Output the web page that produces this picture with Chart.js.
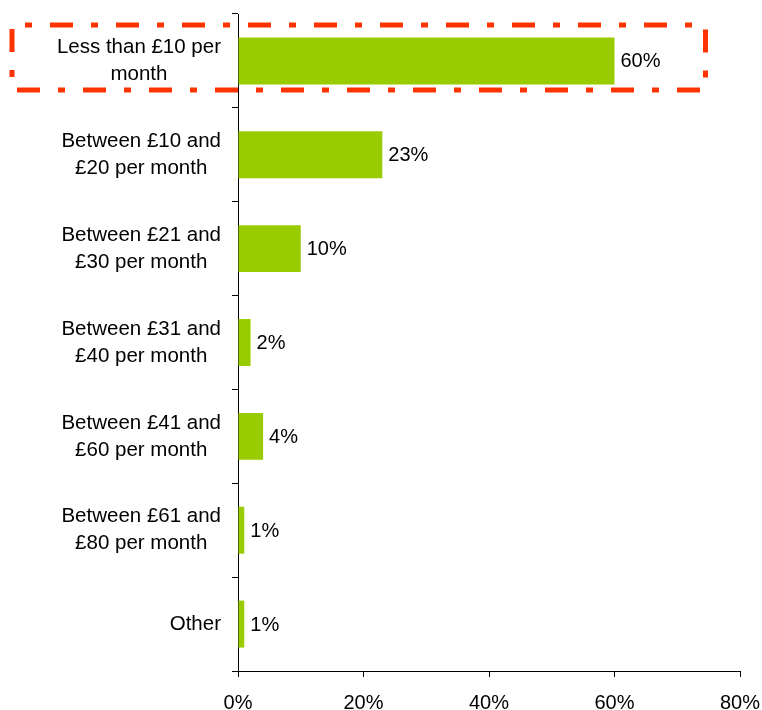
<!DOCTYPE html>
<html>
<head>
<meta charset="utf-8">
<script src="https://cdn.jsdelivr.net/npm/chart.js@4.4.0/dist/chart.umd.min.js"></script>
<style>
  body { margin: 0; background: #fff; }
  #wrap { width: 762px; height: 710px; }
</style>
</head>
<body>
<div id="wrap"><canvas id="myChart" width="762" height="710"></canvas></div>
<script>
// categories (each one is a list of label lines)
const categories = [
  ["Less than £10 per", "month"],
  ["Between £10 and", "£20 per month"],
  ["Between £21 and", "£30 per month"],
  ["Between £31 and", "£40 per month"],
  ["Between £41 and", "£60 per month"],
  ["Between £61 and", "£80 per month"],
  ["Other"]
];
// share of respondents, %
const shares = [60, 23, 10, 2, 4, 1, 1];
const xTicks = [0, 20, 40, 60, 80];

// highlighted category and how far right its box goes (in % on the x axis)
const highlightIndex = 0;
const highlightTo = 74.5;

const FONT = "'Liberation Sans', Arial, sans-serif";
Chart.defaults.font.family = FONT;
Chart.defaults.font.size = 20;
Chart.defaults.color = "#000";

// value labels at the end of each bar
const valueLabels = {
  id: "valueLabels",
  afterDatasetsDraw(chart) {
    const c = chart.ctx;
    const meta = chart.getDatasetMeta(0);
    c.save();
    c.font = "20px " + FONT;
    c.fillStyle = "#000";
    c.textAlign = "left";
    c.textBaseline = "middle";
    meta.data.forEach((bar, i) => {
      c.fillText(shares[i] + "%", bar.x + 6, bar.y + 1);
    });
    c.restore();
  }
};

// category labels: block right aligned, lines centred inside the block
const catLabels = {
  id: "catLabels",
  afterDraw(chart) {
    const c = chart.ctx;
    const y = chart.scales.y;
    const right = y.right - 17;
    const lh = 27;
    c.save();
    c.font = "20.5px " + FONT;
    c.fillStyle = "#000";
    c.textAlign = "center";
    c.textBaseline = "middle";
    categories.forEach((lines, i) => {
      const w = Math.max(...lines.map(l => c.measureText(l).width));
      const cx = right - w / 2;
      const cy = y.getPixelForValue(i);
      lines.forEach((l, k) => {
        c.fillText(l, cx, cy + (k - (lines.length - 1) / 2) * lh);
      });
    });
    c.restore();
  }
};

// dash-dot highlight box round one category
const highlightBox = {
  id: "highlightBox",
  afterDraw(chart) {
    const c = chart.ctx;
    const xs = chart.scales.x, ys = chart.scales.y;
    const yc = ys.getPixelForValue(highlightIndex);
    const x0 = 12, x1 = xs.getPixelForValue(highlightTo);
    const y0 = yc - 36, y1 = yc + 29;
    c.save();
    c.strokeStyle = "#ff3300";
    c.lineWidth = 5;
    c.setLineDash([23, 18, 7, 18]);
    c.lineDashOffset = 28;
    c.strokeRect(x0, y0, x1 - x0, y1 - y0);
    c.restore();
  }
};

new Chart(document.getElementById("myChart"), {
  type: "bar",
  data: {
    labels: categories,
    datasets: [{
      data: shares,
      backgroundColor: "#99cc00",
      borderWidth: 0,
      barPercentage: 0.5,
      categoryPercentage: 1
    }]
  },
  options: {
    indexAxis: "y",
    responsive: false,
    animation: false,
    events: [],
    layout: { padding: { top: 14, right: 22, left: 0, bottom: 0 } },
    plugins: { legend: { display: false }, tooltip: { enabled: false } },
    scales: {
      x: {
        min: 0,
        max: 80,
        afterBuildTicks: (s) => { s.ticks = xTicks.map(v => ({ value: v })); },
        afterFit: (s) => { s.height = 39; s.paddingLeft = 0; s.paddingRight = 0; },
        ticks: { callback: (v) => v + "%", padding: 14, maxRotation: 0, font: { size: 20 } },
        grid: { drawOnChartArea: false, drawTicks: true, tickLength: 6, color: "#000" },
        border: { display: true, color: "#000", width: 1 }
      },
      y: {
        afterFit: (s) => { s.width = 238; s.paddingTop = 0; s.paddingBottom = 0; },
        ticks: { display: false },
        grid: { drawOnChartArea: false, drawTicks: true, tickLength: 6, color: "#000", offset: true },
        border: { display: true, color: "#000", width: 1 }
      }
    }
  },
  plugins: [valueLabels, catLabels, highlightBox]
});
</script>
</body>
</html>
